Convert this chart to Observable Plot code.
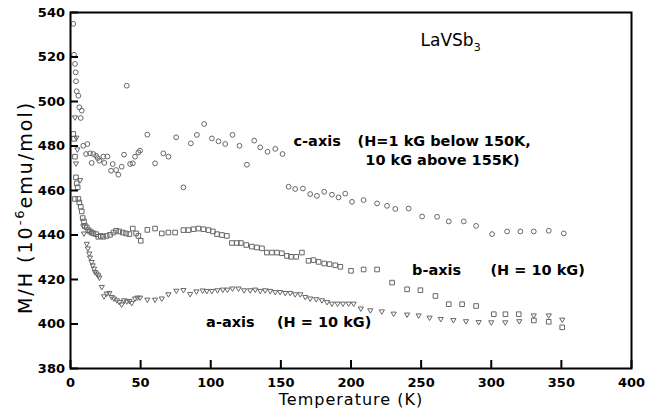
<!DOCTYPE html>
<html><head><meta charset="utf-8">
<script src="https://cdn.jsdelivr.net/npm/d3@7"></script>
<script src="https://cdn.jsdelivr.net/npm/@observablehq/plot@0.6"></script>
<style>body{margin:0;background:#fff} #chart svg{display:block}</style>
</head><body><div id="chart"></div>
<script>
// c-axis (circles)
const cT = [2.0,2.5,3.2,3.7,3.9,4.4,5.6,6.3,7.3,8.0,9.1,11.1,12.0,13.9,15.1,16.3,18.2,19.4,20.6,23.4,24.1,26.3,28.9,30.1,32.5,34.1,36.5,38.2,40.1,42.5,44.4,46.0,48.4,49.6,54.8,60.3,66.2,69.8,75.3,80.5,85.8,90.1,95.3,100.8,105.5,110.3,115.5,120.5,125.8,131.0,135.3,140.5,146.0,151.2,155.5,160.2,165.7,170.9,175.7,180.9,186.4,191.1,195.9,200.7,209.0,218.6,225.7,231.6,241.1,250.7,261.4,269.7,280.4,289.2,300.6,311.3,320.8,330.3,341.0,351.7];
const cM = [534.9,521.0,516.9,513.1,509.1,504.6,502.6,497.4,492.6,495.9,480.1,476.4,480.9,476.7,472.4,476.4,475.6,474.6,473.4,475.2,472.4,475.3,468.9,471.9,469.2,467.1,470.7,476.1,507.1,471.9,472.2,475.2,477.1,477.9,485.1,472.2,476.7,475.2,483.9,461.4,481.2,485.0,489.9,483.4,482.1,480.9,485.0,480.1,471.6,482.4,479.4,477.4,478.7,476.4,461.7,460.7,460.9,458.4,457.6,459.4,458.1,456.9,458.6,454.9,455.7,454.2,453.1,451.7,451.9,448.3,448.2,446.1,446.1,444.1,440.4,441.6,441.6,441.6,441.9,440.7];
// b-axis (squares)
const bT = [2.0,2.5,3.2,3.9,4.4,5.1,3.2,5.6,6.3,7.3,8.0,8.7,9.6,10.3,11.6,12.7,13.9,15.1,16.3,18.2,19.8,21.6,23.4,25.8,28.2,30.6,32.5,34.8,37.3,39.6,42.0,44.4,46.8,48.4,50.1,54.8,60.3,65.1,69.8,74.6,80.5,84.1,87.7,91.2,94.8,98.4,101.5,104.4,108.0,111.5,115.1,118.6,121.5,125.3,129.3,132.9,136.5,140.0,143.6,147.2,150.7,154.3,157.2,160.9,165.0,169.7,173.3,176.9,180.9,184.7,188.8,192.4,200.0,209.0,218.6,229.3,240.0,249.5,260.2,269.7,279.2,289.2,301.8,310.1,319.6,330.4,341.0,350.6];
const bM = [485.4,483.2,475.2,465.9,463.2,461.4,456.2,456.2,454.6,452.7,450.6,447.6,446.1,444.1,443.4,442.2,441.6,441.1,440.7,440.4,439.2,439.6,439.2,439.6,440.1,441.1,441.9,441.6,441.1,440.7,440.4,442.9,440.7,439.6,437.4,442.3,442.9,440.7,441.1,441.1,442.2,442.2,442.6,442.9,442.6,442.2,441.6,440.4,440.0,439.6,436.4,436.4,436.4,435.5,434.8,434.4,434.0,432.1,432.1,432.1,431.8,430.6,430.2,430.2,432.1,428.4,428.7,427.9,427.2,426.9,426.4,425.7,423.9,424.5,424.5,418.6,415.6,415.2,412.6,408.9,408.9,408.1,404.4,404.4,404.4,401.6,401.0,398.5];
// a-axis (down triangles)
const aT = [3.2,4.2,4.9,3.9,6.8,9.1,9.6,11.6,12.4,13.4,13.9,15.1,15.8,16.8,17.5,18.7,19.8,20.6,22.3,23.9,25.8,27.7,29.4,31.0,33.0,34.8,36.5,38.2,40.1,42.0,43.7,46.0,47.7,49.6,54.8,60.3,65.1,69.8,75.5,80.5,85.3,89.8,94.2,97.2,100.8,104.8,108.6,111.9,115.5,119.8,123.8,128.1,131.7,135.3,138.8,142.4,146.0,149.5,153.1,156.7,160.2,163.8,167.4,170.9,175.2,179.3,182.9,186.4,190.4,194.3,198.3,201.9,207.0,213.8,222.0,230.4,240.0,248.2,256.0,264.0,273.0,282.0,291.0,300.0,310.0,320.0,330.3,341.0,350.6];
const aM = [492.6,483.5,478.2,471.9,464.4,443.7,440.4,435.8,433.7,431.4,429.6,427.6,426.1,424.6,423.1,422.4,421.6,420.6,416.4,412.2,413.4,413.7,411.9,411.2,410.4,409.6,408.5,410.4,409.9,410.1,409.2,411.2,411.6,411.6,410.7,410.7,411.2,413.1,414.7,415.0,413.2,414.4,414.8,414.6,414.6,414.9,415.2,415.2,415.7,415.7,414.9,414.9,415.2,414.6,414.9,414.6,414.1,414.1,413.7,413.7,413.1,413.1,411.9,411.2,410.9,410.4,409.6,408.9,408.9,408.9,408.9,408.9,406.7,405.9,405.4,404.4,404.0,403.6,402.6,402.0,401.5,401.0,400.6,400.5,400.5,401.0,403.6,403.6,401.7];

const xTicks = [0,50,100,150,200,250,300,350,400];
const yTicks = [380,400,420,440,460,480,500,520,540];
const xTitle = "Temperature (K)";
const yTitle = ["M/H (10", "-6", "emu/mol)"];
const compound = ["LaVSb", "3"];
const notes = ["c-axis", "(H=1 kG below 150K,", "10 kG above 155K)", "b-axis", "(H = 10 kG)", "a-axis", "(H = 10 kG)"];
const noteX = [159.0, 204.7, 210.2, 243.5, 299.4, 96.7, 147.2];
const noteY = [481.9, 481.9, 473.4, 424.2, 424.2, 400.6, 400.6];

const rows = (T, M) => T.map((t, i) => ({T: t, M: M[i]}));
const triDown = {draw(ctx, size) { const r = Math.sqrt(size / Math.PI); ctx.moveTo(-r, -r * 0.8); ctx.lineTo(r, -r * 0.8); ctx.lineTo(0, r * 0.9); ctx.closePath(); }};
const gray = "#666";

const plot = Plot.plot({
  width: 667, height: 412,
  marginLeft: 70, marginRight: 36, marginTop: 12, marginBottom: 44,
  x: {domain: [0, 400]},
  y: {domain: [380, 540]},
  style: {fontFamily: "'DejaVu Sans', sans-serif", background: "white", color: "black"},
  marks: [
    Plot.dot(rows(cT, cM), {x: "T", y: "M", r: 2.4, stroke: gray, strokeWidth: 1}),
    Plot.dot(rows(bT, bM), {x: "T", y: "M", r: 2.6, symbol: "square", stroke: gray, strokeWidth: 1}),
    Plot.dot(rows(aT, aM), {x: "T", y: "M", r: 2.6, symbol: triDown, stroke: gray, strokeWidth: 1}),
    Plot.axisX({ticks: xTicks, tickSize: -8, strokeWidth: 2, tickFormat: () => "", label: null}),
    Plot.axisX({ticks: xTicks, tickSize: 0, tickPadding: 9, fontSize: 13, fontWeight: "bold", label: null}),
    Plot.axisY({ticks: yTicks, tickSize: -8, strokeWidth: 2, tickFormat: () => "", label: null}),
    Plot.axisY({ticks: yTicks, tickSize: 0, tickPadding: 5.5, fontSize: 13, fontWeight: "bold", label: null}),
    Plot.frame({stroke: "black", strokeWidth: 2}),
    Plot.text([xTitle], {frameAnchor: "bottom", textAnchor: "middle", dy: 36, fontSize: 16, fill: "black", className: "xtitle"}),
    Plot.text([yTitle.join("")], {frameAnchor: "left", textAnchor: "middle", dx: -45, dy: 17, rotate: -90, fontSize: 19, fill: "black", className: "ytitle"}),
    Plot.text([compound.join("")], {x: () => 249.6, y: () => 527.4, textAnchor: "start", fontSize: 17, fill: "black", className: "cmpd"}),
    Plot.text(notes, {x: (d, i) => noteX[i], y: (d, i) => noteY[i], textAnchor: "start", fontSize: 14.5, fontWeight: "bold", fill: "black"})
  ]
});
document.getElementById("chart").appendChild(plot);

const NS = "http://www.w3.org/2000/svg";
const xt = plot.querySelector(".xtitle text");
if (xt) xt.setAttribute("letter-spacing", "1");
// superscript / subscript as real text tspans
const yt = plot.querySelector(".ytitle text");
if (yt) {
  yt.textContent = "";
  yt.setAttribute("letter-spacing", "2");
  const t1 = document.createElementNS(NS, "tspan"); t1.textContent = yTitle[0];
  const t2 = document.createElementNS(NS, "tspan"); t2.textContent = yTitle[1]; t2.setAttribute("font-size", "13"); t2.setAttribute("dy", "-8");
  const t3 = document.createElementNS(NS, "tspan"); t3.textContent = yTitle[2]; t3.setAttribute("dy", "8");
  yt.append(t1, t2, t3);
}
const ct = plot.querySelector(".cmpd text");
if (ct) {
  ct.textContent = "";
  const t1 = document.createElementNS(NS, "tspan"); t1.textContent = compound[0];
  const t2 = document.createElementNS(NS, "tspan"); t2.textContent = compound[1]; t2.setAttribute("font-size", "11"); t2.setAttribute("dy", "5");
  ct.append(t1, t2);
}
</script>
</body></html>
